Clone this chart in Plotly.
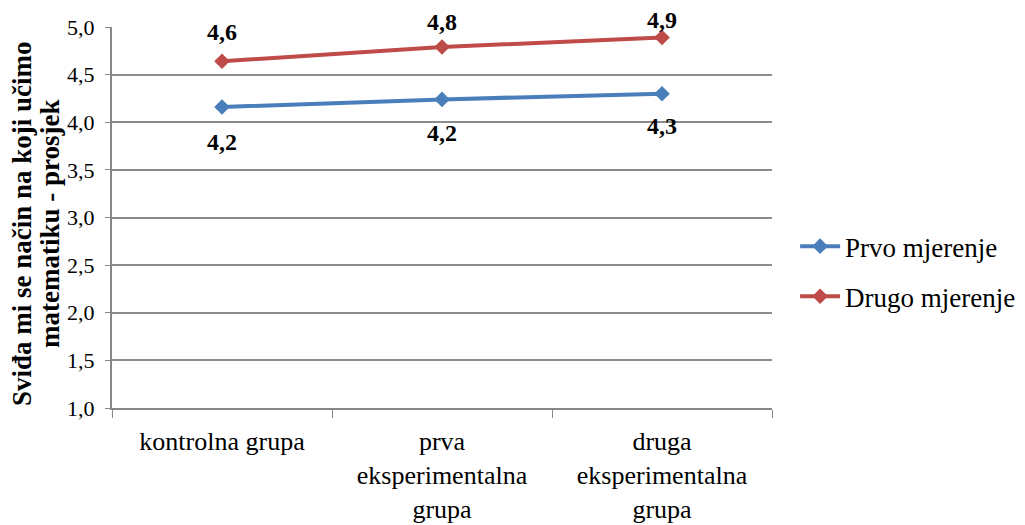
import plotly.graph_objects as go

categories = ["kontrolna grupa", "prva<br>eksperimentalna<br>grupa", "druga<br>eksperimentalna<br>grupa"]
prvo = [4.16, 4.24, 4.30]
drugo = [4.64, 4.79, 4.89]
series_names = ["Prvo mjerenje", "Drugo mjerenje"]
y_ticks = [1.0, 1.5, 2.0, 2.5, 3.0, 3.5, 4.0, 4.5, 5.0]
y_ticklabels = [f"{v:.1f}".replace(".", ",") for v in y_ticks]
y_title_lines = ["Sviđa mi se način na koji učimo", "matematiku - prosjek"]

# label pixel offsets (placement only)
prvo_label_shift = [-35, -34, -32]
drugo_label_shift = [29, 25, 17]

def lab(v):
    return f"{v:.1f}".replace(".", ",")

FONT = "Liberation Serif, Times New Roman, serif"
BLUE = "#4a7ebb"
RED = "#be4b48"

fig = go.Figure()
fig.add_trace(go.Scatter(
    x=categories, y=prvo, name=series_names[0], mode="lines+markers",
    legendgroup="a",
    line=dict(color=BLUE, width=4), marker=dict(symbol="diamond", size=12, color=BLUE),
))
fig.add_trace(go.Scatter(
    x=categories, y=drugo, name=series_names[1], mode="lines+markers",
    legendgroup="b",
    line=dict(color=RED, width=4), marker=dict(symbol="diamond", size=12, color=RED),
))

label_font = dict(family=FONT, size=24, color="black", weight="bold")
for cat, v, s in zip(categories, prvo, prvo_label_shift):
    fig.add_annotation(x=cat, y=v, text=lab(v), showarrow=False, yshift=s,
                       xanchor="center", yanchor="middle", font=label_font)
for cat, v, s in zip(categories, drugo, drugo_label_shift):
    fig.add_annotation(x=cat, y=v, text=lab(v), showarrow=False, yshift=s,
                       xanchor="center", yanchor="middle", font=label_font)

title_font = dict(family=FONT, size=27, color="black", weight="bold")
for line, xs in zip(y_title_lines, [-90, -62]):
    fig.add_annotation(xref="paper", yref="paper", x=0, y=0.483, xshift=xs,
                       text=line, textangle=-90, showarrow=False,
                       xanchor="center", yanchor="middle", font=title_font)

fig.update_layout(
    width=1025, height=525,
    margin=dict(l=104, r=261, t=19, b=125),
    paper_bgcolor="white", plot_bgcolor="white",
    font=dict(family=FONT, size=26, color="black"),
    legend=dict(x=1.035, y=0.358, xanchor="left", yanchor="middle",
                font=dict(family=FONT, size=27, color="black"), tracegroupgap=12, itemwidth=40),
    showlegend=True,
)
fig.update_xaxes(
    type="category", tickson="boundaries", ticks="outside", ticklen=8, tickcolor="#868686",
    showline=True, linecolor="#868686", linewidth=2, showgrid=False,
    tickfont=dict(family=FONT, size=26, color="black"), ticklabelstandoff=9,
    range=[-0.5, 2.5], automargin=False,
)
fig.update_yaxes(
    range=[1.0, 5.0], tickvals=y_ticks, ticktext=y_ticklabels,
    ticks="outside", ticklen=5, tickcolor="#868686",
    showline=True, linecolor="#868686", linewidth=2,
    showgrid=True, gridcolor="#8c8c8c", gridwidth=1.5,
    tickfont=dict(family=FONT, size=22, color="black"), ticklabelstandoff=6,
    zeroline=False, automargin=False,
)
fig.write_html("out.html")
